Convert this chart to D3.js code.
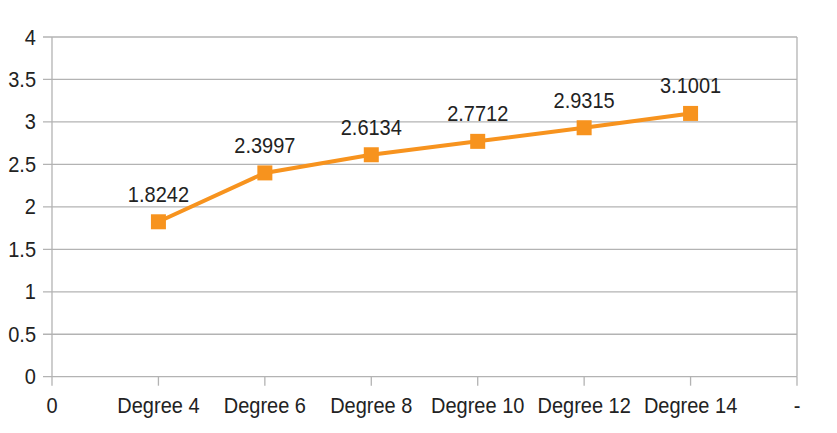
<!DOCTYPE html>
<html><head><meta charset="utf-8">
<script src="https://cdn.jsdelivr.net/npm/d3@7"></script>
<style>html,body{margin:0;padding:0;background:#fff;}svg{display:block;font-family:"Liberation Sans",Arial,sans-serif;}</style>
</head><body>
<svg id="c" width="837" height="433"></svg>
<script>
const categories = ["0","Degree 4","Degree 6","Degree 8","Degree 10","Degree 12","Degree 14","-"];
const seriesCats = ["Degree 4","Degree 6","Degree 8","Degree 10","Degree 12","Degree 14"];
const seriesValues = [1.8242, 2.3997, 2.6134, 2.7712, 2.9315, 3.1001];
const yTicks = [0,0.5,1,1.5,2,2.5,3,3.5,4];

const svg = d3.select("#c");
const L = 52, R = 797, T = 37, B = 376.7;
const x = d3.scalePoint().domain(categories).range([L, R]).padding(0);
const y = d3.scaleLinear().domain([0,4]).range([B, T]);
const grid = "#b3b3b3";
const col = "#f7931e";
const sy = 1.1;

svg.append("g").selectAll("line").data(yTicks).join("line")
  .attr("x1", L-9).attr("x2", R).attr("y1", d=>y(d)).attr("y2", d=>y(d))
  .attr("stroke", grid).attr("stroke-width", 1.3);
svg.append("g").selectAll("text").data(yTicks).join("text")
  .attr("transform", d=>`translate(36,${y(d)+7.5}) scale(1,${sy})`)
  .attr("text-anchor","end").attr("font-size",20).attr("fill","#222")
  .text(d=>d);
svg.append("line").attr("x1",L).attr("x2",L).attr("y1",T).attr("y2",B).attr("stroke",grid).attr("stroke-width",1.3);
svg.append("line").attr("x1",R).attr("x2",R).attr("y1",T).attr("y2",B).attr("stroke",grid).attr("stroke-width",1.3);
svg.append("g").selectAll("line").data(categories).join("line")
  .attr("x1", d=>x(d)).attr("x2", d=>x(d)).attr("y1", B).attr("y2", B+9)
  .attr("stroke", grid).attr("stroke-width", 1.3);
svg.append("g").selectAll("text").data(categories).join("text")
  .attr("transform", d=>`translate(${x(d)},413) scale(1,${sy})`)
  .attr("text-anchor","middle").attr("font-size",20).attr("fill","#222")
  .text(d=>d);

const pts = seriesCats.map((c,i)=>({c, v: seriesValues[i]}));
svg.append("path").datum(pts)
  .attr("d", d3.line().x(d=>x(d.c)).y(d=>y(d.v)))
  .attr("fill","none").attr("stroke",col).attr("stroke-width",4);
const s = 15;
svg.append("g").selectAll("rect").data(pts).join("rect")
  .attr("x", d=>x(d.c)-s/2).attr("y", d=>y(d.v)-s/2).attr("width", s).attr("height", s)
  .attr("fill", col);
svg.append("g").selectAll("text").data(pts).join("text")
  .attr("transform", d=>`translate(${x(d.c)},${y(d.v)-20}) scale(1,${sy})`)
  .attr("text-anchor","middle").attr("font-size",20).attr("fill","#222")
  .text(d=>d.v.toFixed(4));
</script>
</body></html>
